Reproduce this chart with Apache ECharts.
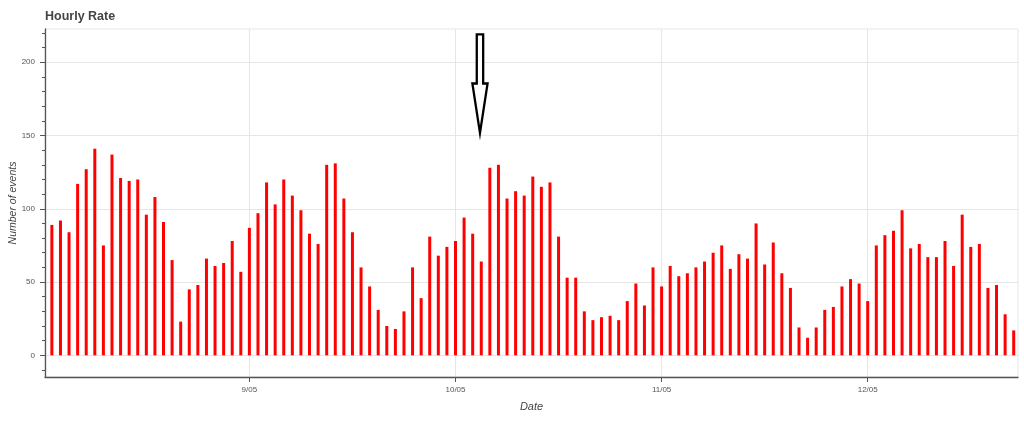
<!DOCTYPE html>
<html><head><meta charset="utf-8">
<script src="https://cdn.jsdelivr.net/npm/echarts@6/dist/echarts.min.js"></script>
<style>html,body{margin:0;padding:0;background:#fff}#c{width:1024px;height:429px}</style>
</head><body><div id="c"></div>
<script>
// hours counted from 8/05 00:00; first bar is at hour 1
const firstHour = 1;
const counts = [
  89,92,84,117,127,141,75,137,121,119,120,96,108,91,65,23,45,48,66,61,63,78,57,87,97,118,103,120,
  109,99,83,76,130,131,107,84,60,47,31,20,18,30,60,39,81,68,74,78,94,83,64,128,130,107,112,109,
  122,115,118,81,53,53,30,24,26,27,24,37,49,34,60,47,61,54,56,60,64,70,75,59,69,66,90,62,
  77,56,46,19,12,19,31,33,47,52,49,37,75,82,85,99,73,76,67,67,78,61,96,74,76,46,48,28,17
];
const tickHours = [24, 48, 72, 96];
const tickLabels = ['9/05', '10/05', '11/05', '12/05'];
const yMajor = [0, 50, 100, 150, 200];
const yMinor = [-10,10,20,30,40,60,70,80,90,110,120,130,140,160,170,180,190,210,220];
const arrowTip = [50.85, 150];
const arrowTopValue = 220;

const chart = echarts.init(document.getElementById('c'), null, {renderer: 'canvas'});
const font = 'Liberation Sans, Arial, Helvetica, sans-serif';
const axisColor = '#555';
const labelColor = '#555';
const gridColor = '#e6e6e6';

chart.setOption({
  animation: false,
  backgroundColor: '#fff',
  title: {
    text: 'Hourly Rate', left: 40, top: 5,
    textStyle: {fontSize: 12.5, fontWeight: 'bold', color: '#444', fontFamily: font}
  },
  grid: {left: 45, right: 6, top: 29, bottom: 52, show: true, borderColor: gridColor, borderWidth: 1,
         outerBoundsMode: 'none', containLabel: false},
  xAxis: {
    type: 'value', min: 0.2, max: 113.5,
    name: 'Date', nameLocation: 'middle', nameGap: 24, nameMoveOverlap: false,
    nameTextStyle: {fontStyle: 'italic', fontSize: 11, color: '#444', fontFamily: font},
    axisLine: {show: true, onZero: false, lineStyle: {color: axisColor, width: 1.3}},
    axisTick: {show: true, customValues: tickHours, length: 5, lineStyle: {color: axisColor}},
    axisLabel: {
      customValues: tickHours, fontSize: 8, color: labelColor, margin: 9, fontFamily: font,
      formatter: v => { const i = tickHours.indexOf(v); return i >= 0 ? tickLabels[i] : ''; }
    },
    splitLine: {show: true, lineStyle: {color: gridColor, width: 1}}
  },
  yAxis: [{
    type: 'value', min: -14.8, max: 222.7,
    name: 'Number of events', nameLocation: 'middle', nameGap: 26, nameMoveOverlap: false,
    nameTextStyle: {fontStyle: 'italic', fontSize: 10.5, color: '#444', fontFamily: font},
    axisLine: {show: true, lineStyle: {color: axisColor, width: 1.3}},
    axisTick: {show: true, customValues: yMajor, length: 5, lineStyle: {color: axisColor}},
    axisLabel: {customValues: yMajor, fontSize: 8, color: labelColor, margin: 10, fontFamily: font},
    splitLine: {show: true, lineStyle: {color: gridColor, width: 1}}
  }, {
    type: 'value', min: -14.8, max: 222.7, position: 'left', offset: 0,
    axisLine: {show: false},
    axisTick: {show: true, customValues: yMinor, length: 3, lineStyle: {color: axisColor}},
    axisLabel: {show: false},
    splitLine: {show: false}
  }],
  series: [{
    type: 'bar', xAxisIndex: 0, yAxisIndex: 0,
    barWidth: 3,
    itemStyle: {color: '#ff0000'},
    data: counts.map((v, i) => [firstHour + i, v])
  }]
});

const tipPx = chart.convertToPixel({xAxisIndex: 0, yAxisIndex: 0}, arrowTip);
const topPx = chart.convertToPixel({xAxisIndex: 0, yAxisIndex: 0}, [arrowTip[0], arrowTopValue]);
const cx = tipPx[0], ty = tipPx[1] - 2.5, yTop = topPx[1] + 1.5, yBase = tipPx[1] - 52;
chart.setOption({
  graphic: [{
    type: 'polygon', z: 100,
    shape: {points: [
      [cx - 3.2, yTop], [cx + 3.2, yTop], [cx + 3.2, yBase], [cx + 7.6, yBase],
      [cx, ty], [cx - 7.6, yBase], [cx - 3.2, yBase]
    ]},
    style: {fill: '#fff', stroke: '#000', lineWidth: 2.3, lineJoin: 'miter', miterLimit: 10}
  }]
});
</script>
</body></html>
